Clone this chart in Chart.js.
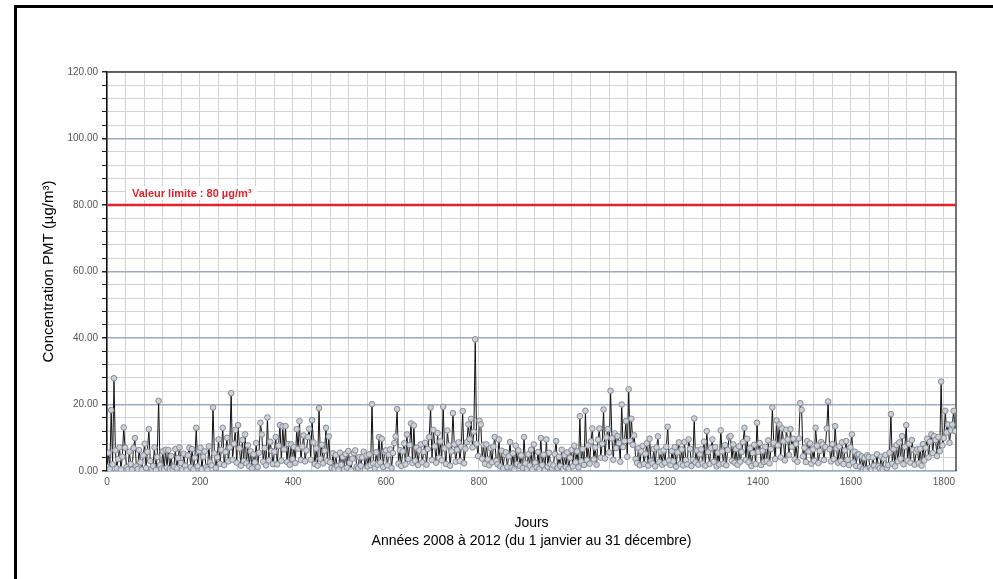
<!DOCTYPE html>
<html>
<head>
<meta charset="utf-8">
<script src="https://cdn.jsdelivr.net/npm/chart.js@4.4.1/dist/chart.umd.min.js"></script>
<style>
html, body { margin: 0; padding: 0; background: #fff; overflow: hidden; }
#wrap { position: relative; width: 993px; height: 579px; overflow: hidden; }
#frame { position: absolute; left: 14px; top: 5px; width: 1200px; height: 800px; border-left: 3px solid #000; border-top: 3px solid #000; }
canvas { position: absolute; left: 0; top: 0; }
</style>
</head>
<body>
<div id="wrap">
  <div id="frame"></div>
  <canvas id="chart" width="993" height="579"></canvas>
</div>
<script>
// PMT concentration, one reading every 3 days, 2008 -> 2012
var stepDays = 3;
var pmt = [
  1.2, 5.5, 0.6, 18.3, 2.0, 27.9, 6.2, 0.8, 3.6, 7.1, 0.5, 4.3, 13.1, 7.0, 1.2, 0.5, 5.8, 2.1, 0.4, 6.9,
  9.9, 1.4, 0.6, 6.3, 2.6, 0.4, 4.7, 8.2, 0.9, 5.8, 12.6, 3.0, 0.7, 1.5, 7.1, 0.3, 4.2, 21.1, 1.8, 0.7,
  5.9, 0.6, 6.4, 1.0, 6.3, 0.6, 4.5, 0.4, 1.3, 6.6, 0.8, 3.9, 7.1, 2.4, 0.5, 5.2, 1.6, 0.3, 4.7, 7.0,
  1.2, 6.6, 0.5, 4.0, 13.0, 1.4, 6.0, 7.0, 0.6, 4.3, 5.9, 1.1, 0.4, 7.4, 2.6, 1.7, 19.1, 5.3, 0.9, 4.1,
  9.5, 2.2, 6.4, 13.0, 1.8, 5.7, 10.0, 2.9, 7.1, 23.4, 3.4, 8.2, 12.4, 2.5, 13.8, 6.8, 1.6, 9.3, 3.0, 11.0,
  2.3, 7.7, 1.4, 5.9, 0.8, 5.0, 2.6, 8.4, 1.2, 5.5, 14.5, 11.0, 2.8, 6.9, 1.7, 16.1, 3.2, 8.8, 6.0, 2.1,
  5.8, 10.2, 2.0, 7.6, 13.8, 3.1, 13.4, 6.5, 13.5, 2.7, 8.1, 1.9, 8.0, 3.6, 7.2, 2.4, 12.6, 6.7, 15.0, 3.3,
  7.3, 10.7, 2.9, 6.2, 10.2, 12.7, 3.4, 15.3, 8.6, 2.1, 6.8, 1.6, 18.9, 3.7, 7.9, 2.3, 6.1, 13.0, 3.0, 10.4,
  2.6, 0.9, 5.3, 0.7, 4.8, 1.5, 0.4, 5.5, 1.9, 4.2, 0.6, 5.1, 1.0, 6.0, 2.5, 0.3, 3.7, 5.4, 6.2, 1.3,
  0.9, 4.2, 1.6, 4.1, 5.8, 0.5, 4.7, 1.4, 5.0, 1.8, 20.1, 2.3, 0.8, 5.6, 1.9, 10.2, 2.6, 9.7, 1.2, 5.8,
  6.2, 1.7, 4.9, 6.5, 0.9, 5.4, 8.4, 10.4, 18.6, 2.2, 6.3, 1.5, 5.9, 8.3, 2.0, 11.0, 3.6, 7.8, 14.3, 2.4,
  13.7, 3.1, 7.0, 1.8, 6.2, 8.0, 2.6, 5.7, 8.5, 1.9, 6.6, 10.2, 19.1, 3.3, 12.4, 7.4, 2.5, 11.4, 4.0, 8.9,
  3.2, 19.3, 6.8, 2.1, 12.2, 7.7, 1.6, 5.9, 17.4, 8.0, 2.8, 6.4, 8.6, 3.0, 7.3, 18.0, 2.3, 6.7, 8.7, 14.0,
  9.6, 15.7, 7.1, 11.8, 39.6, 8.2, 4.5, 15.1, 14.0, 3.7, 7.9, 2.2, 8.0, 3.5, 1.7, 6.9, 2.6, 7.3, 10.2, 3.1,
  2.0, 9.5, 1.4, 6.1, 0.8, 4.9, 5.6, 1.2, 4.4, 8.7, 1.0, 5.3, 0.5, 7.6, 2.1, 6.2, 1.5, 4.7, 0.9, 10.2,
  2.3, 0.7, 5.0, 1.6, 6.4, 0.5, 8.0, 2.5, 1.1, 5.7, 0.6, 9.9, 1.8, 4.9, 0.4, 9.5, 1.3, 5.5, 2.0, 0.8,
  1.7, 5.1, 9.0, 0.9, 4.3, 1.5, 6.4, 0.6, 4.8, 1.2, 5.6, 0.7, 4.0, 6.3, 1.4, 7.6, 2.6, 5.9, 1.1, 16.5,
  2.9, 6.6, 1.8, 18.1, 3.3, 7.7, 2.2, 8.9, 12.8, 3.5, 7.1, 1.9, 9.4, 12.8, 4.0, 8.2, 18.5, 3.8, 10.1, 12.6,
  5.6, 24.1, 9.8, 3.4, 11.3, 6.9, 10.5, 8.4, 2.8, 20.0, 7.2, 9.0, 15.0, 4.3, 24.6, 9.1, 15.7, 7.9, 10.7, 3.6,
  2.4, 6.8, 1.7, 5.9, 7.5, 2.1, 5.2, 8.3, 1.6, 9.7, 3.0, 2.3, 6.6, 1.4, 7.1, 10.4, 2.7, 5.8, 1.9, 6.2,
  2.5, 7.3, 13.3, 3.1, 1.8, 6.0, 2.9, 7.2, 1.3, 5.6, 8.6, 2.2, 6.5, 1.7, 8.7, 3.3, 2.0, 9.5, 6.7, 1.5,
  3.4, 15.8, 2.6, 6.2, 1.9, 5.0, 6.5, 2.3, 8.8, 1.6, 12.0, 5.7, 2.1, 6.9, 9.5, 2.8, 7.2, 1.4, 5.5, 2.0,
  12.2, 5.9, 2.2, 7.8, 1.7, 6.3, 10.2, 10.5, 3.1, 8.0, 2.5, 6.6, 1.9, 7.4, 2.8, 5.7, 8.7, 13.0, 3.3, 9.7,
  2.6, 6.8, 1.5, 5.4, 7.9, 2.1, 14.5, 5.8, 8.4, 1.8, 6.1, 2.7, 7.3, 3.0, 9.2, 2.3, 6.6, 19.1, 8.5, 3.6,
  15.2, 7.7, 14.0, 4.1, 12.8, 8.9, 3.2, 12.4, 9.5, 4.8, 12.6, 7.3, 9.7, 3.5, 8.1, 2.8, 9.8, 20.4, 18.4, 4.4,
  7.0, 2.7, 9.0, 5.9, 8.3, 2.2, 6.5, 3.1, 13.0, 7.6, 2.4, 6.0, 8.7, 8.0, 3.3, 7.2, 12.8, 20.9, 6.6, 2.9,
  8.1, 3.6, 13.5, 6.8, 2.5, 7.4, 3.0, 8.6, 2.1, 6.2, 9.0, 3.4, 1.8, 7.1, 11.0, 2.6, 5.8, 1.5, 4.9, 5.0,
  1.3, 4.4, 0.6, 3.9, 0.5, 4.7, 4.2, 1.0, 0.5, 4.1, 1.6, 0.4, 5.0, 1.4, 0.8, 4.3, 0.6, 3.7, 4.8, 0.9,
  1.8, 5.5, 17.1, 2.2, 6.6, 1.4, 7.8, 2.9, 8.6, 3.7, 10.5, 2.0, 7.3, 13.8, 3.1, 8.2, 2.5, 9.3, 6.4, 1.9,
  5.8, 6.5, 2.3, 6.7, 1.6, 8.1, 3.2, 7.0, 9.7, 4.1, 8.8, 11.0, 5.4, 10.5, 9.3, 4.5, 10.2, 6.0, 26.9, 7.7,
  9.9, 18.1, 11.6, 14.0, 8.5, 12.2, 14.0, 18.1, 12.0
];
var lastDay = 1826;
var limitValue = 80;
var limitLabel = "Valeur limite : 80 µg/m³";
var yTitle = "Concentration PMT (µg/m³)";
var xTitle = ["Jours", "Années 2008 à 2012 (du 1 janvier au 31 décembre)"];

Chart.defaults.font.family = "'Liberation Sans', Arial, sans-serif";

var pmtPoints = pmt.map(function(v, i) { return {x: i * stepDays, y: v}; });
var limitPoints = [{x: 0, y: limitValue}, {x: lastDay, y: limitValue}];

// border of the plot box + the label of the limit line
var plotFrame = {
  id: 'plotFrame',
  beforeDatasetsDraw: function(chart) {
    var a = chart.chartArea, ctx = chart.ctx;
    ctx.save();
    ctx.strokeStyle = '#444';
    ctx.lineWidth = 1.5;
    ctx.beginPath();
    ctx.moveTo(a.left, a.top);
    ctx.lineTo(a.right, a.top);
    ctx.lineTo(a.right, a.bottom);
    ctx.stroke();
    ctx.restore();
  },
  afterDatasetsDraw: function(chart) {
    var ctx = chart.ctx;
    var y = chart.scales.y.getPixelForValue(limitValue);
    var x = chart.chartArea.left + 25;
    ctx.save();
    ctx.font = "bold 11px 'Liberation Sans', Arial, sans-serif";
    var w = ctx.measureText(limitLabel).width;
    ctx.fillStyle = '#fff';
    ctx.fillRect(x - 6, y - 19, w + 12, 14);
    ctx.fillStyle = '#e3222b';
    ctx.textBaseline = 'middle';
    ctx.fillText(limitLabel, x, y - 11);
    ctx.restore();
  }
};

new Chart(document.getElementById('chart'), {
  type: 'line',
  data: {
    datasets: [
      {
        data: pmtPoints,
        borderColor: '#111',
        borderWidth: 1,
        pointRadius: 2.8,
        pointBackgroundColor: '#d0d0d0',
        pointBorderColor: '#7f8a9c',
        pointBorderWidth: 1,
        tension: 0
      },
      {
        data: limitPoints,
        borderColor: '#e3222b',
        borderWidth: 2.5,
        pointRadius: 0
      }
    ]
  },
  options: {
    responsive: false,
    animation: false,
    layout: { padding: { left: 40, top: 72, right: 37, bottom: 29 } },
    plugins: { legend: { display: false }, tooltip: { enabled: false } },
    scales: {
      x: {
        type: 'linear',
        min: 0,
        max: lastDay,
        afterFit: function(s) { s.height = 79; },
        ticks: {
          stepSize: 40,
          includeBounds: false,
          autoSkip: false,
          maxRotation: 0,
          padding: 5,
          color: '#555',
          font: { size: 10 },
          callback: function(v) { return v % 200 === 0 ? String(v) : ''; }
        },
        grid: { color: '#d2d2d2', lineWidth: 1, drawTicks: false },
        border: { color: '#9aabbf', width: 1.5 },
        title: { display: true, text: xTitle, color: '#000', font: { size: 14, lineHeight: 1.3 }, padding: 0 }
      },
      y: {
        min: 0,
        max: 120,
        afterFit: function(s) { s.width = 67; },
        ticks: {
          stepSize: 4,
          autoSkip: false,
          padding: 4,
          color: '#555',
          font: { size: 10 },
          callback: function(v) { return v % 20 === 0 ? v.toFixed(2) : ''; }
        },
        grid: {
          color: function(c) { return c.tick && c.tick.value % 20 === 0 ? '#9aabbf' : '#d2d2d2'; },
          lineWidth: function(c) { return c.tick && c.tick.value % 20 === 0 ? 1.5 : 1; },
          tickColor: '#222',
          tickLength: 5
        },
        border: { color: '#111', width: 1.5 },
        title: { display: true, text: yTitle, color: '#000', font: { size: 15 }, padding: 0 }
      }
    }
  },
  plugins: [plotFrame]
});
</script>
</body>
</html>
